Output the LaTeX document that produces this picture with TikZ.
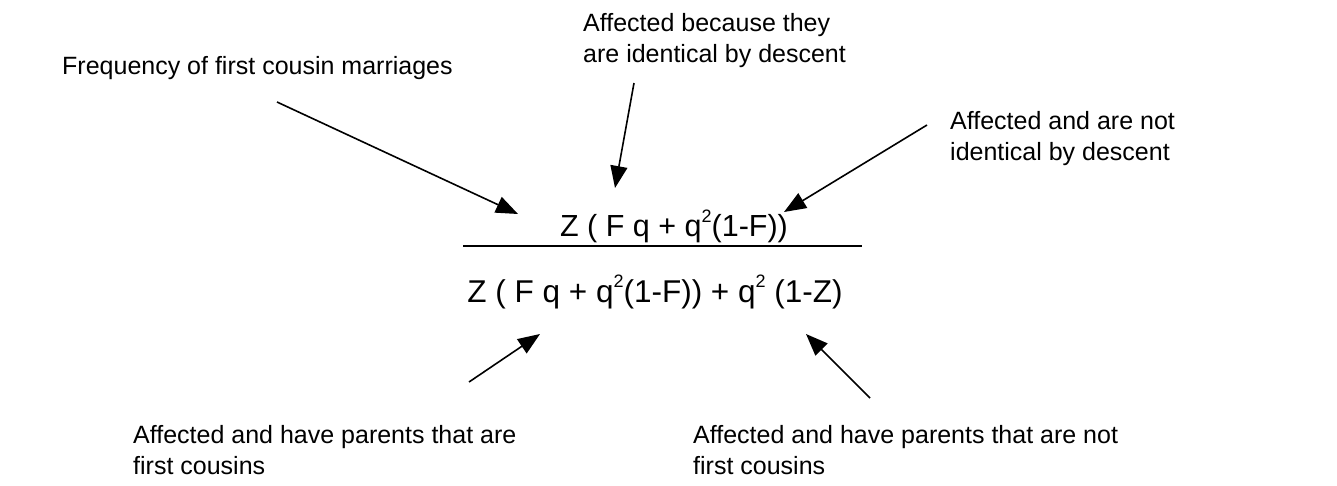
\documentclass[tikz,border=0pt]{standalone}
\usepackage{fontspec}
\setmainfont{Liberation Sans}
\usetikzlibrary{arrows.meta}
\newcommand{\sqr}{\raisebox{0.45em}{\fontsize{18}{18}\selectfont 2}}
\begin{document}
\begin{tikzpicture}[x=1pt,y=-1pt,
  lbl/.style={anchor=base west,inner sep=0pt,font=\fontsize{25}{31}\selectfont,align=left},
  eq/.style={anchor=base,inner sep=0pt,font=\fontsize{30.5}{36}\selectfont},
  arr/.style={line width=1.6pt,-{Triangle[length=22pt,width=17pt]}}]
\useasboundingbox (0,0) rectangle (1337,485);
\node[lbl] (freq) at (62,74) {Frequency of first cousin marriages};
\node[lbl] (ibd) at (583,62) {Affected because they\\are identical by descent};
\node[lbl] (notibd) at (950,160) {Affected and are not\\identical by descent};
\node[eq] (num) at (674,236) {Z ( F q + q\sqr(1-F))};
\coordinate (l1) at (463,246);
\coordinate (l2) at (862,246);
\draw[line width=1.8pt] (l1) -- (l2);
\node[eq, font=\fontsize{31.5}{36}\selectfont] (den) at (655,302) {Z ( F q + q\sqr(1-F)) + q\sqr\ (1-Z)};
\node[lbl] (fc) at (133,474) {Affected and have parents that are\\first cousins};
\node[lbl] (nfc) at (693,474) {Affected and have parents that are not\\first cousins};
\coordinate (a1s) at (277,102); \coordinate (a1e) at (518,214);
\coordinate (a2s) at (634,83);  \coordinate (a2e) at (615,188);
\coordinate (a3s) at (927,125); \coordinate (a3e) at (784,212);
\coordinate (a4s) at (469,382); \coordinate (a4e) at (540,334);
\coordinate (a5s) at (870,398); \coordinate (a5e) at (806,334);
\draw[arr] (a1s) -- (a1e);
\draw[arr] (a2s) -- (a2e);
\draw[arr] (a3s) -- (a3e);
\draw[arr] (a4s) -- (a4e);
\draw[arr] (a5s) -- (a5e);
\end{tikzpicture}
\end{document}
